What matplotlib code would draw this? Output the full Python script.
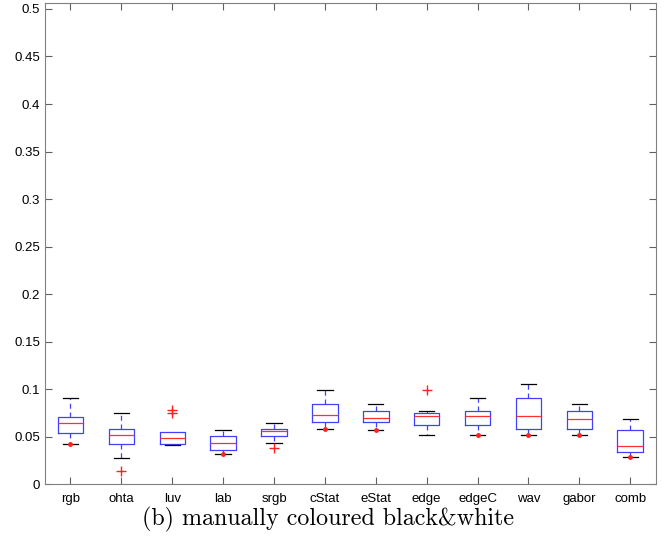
import matplotlib
matplotlib.use("Agg")
import matplotlib.pyplot as plt

plt.rcParams['font.family'] = ['Liberation Sans', 'DejaVu Sans']

labels = ['rgb', 'ohta', 'luv', 'lab', 'srgb', 'cStat', 'eStat', 'edge', 'edgeC', 'wav', 'gabor', 'comb']
whislo = [0.0425, 0.028, 0.0415, 0.032, 0.0435, 0.058, 0.057, 0.052, 0.0515, 0.0515, 0.0515, 0.0285]
q1     = [0.0545, 0.0425, 0.0425, 0.036, 0.0505, 0.0655, 0.066, 0.0625, 0.0625, 0.058, 0.058, 0.0345]
med    = [0.0643, 0.0517, 0.0487, 0.0437, 0.0557, 0.0733, 0.0698, 0.0720, 0.0720, 0.0716, 0.0688, 0.0398]
q3     = [0.0707, 0.0585, 0.0547, 0.0513, 0.0580, 0.0850, 0.0766, 0.0745, 0.0770, 0.0910, 0.0770, 0.0570]
whishi = [0.0912, 0.0745, 0.0547, 0.0573, 0.0643, 0.0987, 0.0850, 0.0770, 0.0910, 0.1060, 0.0850, 0.0687]
# outliers away from the whiskers (drawn as +)
fliers = [[], [0.0145], [0.0748, 0.0783], [], [0.038], [], [], [0.0987], [], [], [], []]
# outliers sitting right on the lower whisker cap (show up as small red dots)
capdots = [0.0425, None, None, 0.032, None, 0.058, 0.057, None, 0.0515, 0.0515, 0.0515, 0.0285]

stats = []
for i in range(len(labels)):
    stats.append(dict(label=labels[i], whislo=whislo[i], q1=q1[i], med=med[i],
                      q3=q3[i], whishi=whishi[i], fliers=fliers[i]))

fig = plt.figure(figsize=(6.67, 5.51), dpi=100)
ax = fig.add_axes([0.0675, 0.121, 0.9155, 0.874])

bp = ax.bxp(stats, positions=range(1, 13), widths=0.5, capwidths=0.3,
            boxprops=dict(color='#4040ff', linewidth=0.9),
            whiskerprops=dict(color='#4040ff', linestyle=(0, (4, 3)), linewidth=0.9),
            capprops=dict(color='black', linewidth=0.9),
            medianprops=dict(color='#ff3030', linewidth=0.9),
            flierprops=dict(marker='+', markeredgecolor='#ff2020', markersize=7, linestyle='none'))

# no visible top cap when the whisker ends on the box edge
for i in range(len(labels)):
    if whishi[i] <= q3[i]:
        bp['caps'][2 * i + 1].set_visible(False)

xs = [i + 1 for i in range(len(capdots)) if capdots[i] is not None]
ys = [v for v in capdots if v is not None]
ax.plot(xs, ys, linestyle='none', marker='o', markersize=2.5, color='#ff2020', zorder=5)

ax.set_xlim(0.5, 12.5)
ax.set_ylim(0, 0.5065)
ax.set_yticks([0, 0.05, 0.1, 0.15, 0.2, 0.25, 0.3, 0.35, 0.4, 0.45, 0.5])
ax.set_yticklabels(['0', '0.05', '0.1', '0.15', '0.2', '0.25', '0.3', '0.35', '0.4', '0.45', '0.5'])
ax.tick_params(direction='in', top=True, right=True, length=5, color='#606060', labelsize=9.5)
ax.tick_params(axis='x', pad=6)
for s in ax.spines.values():
    s.set_color('#808080')

fig.text(0.492, 0.058, '(b) manually coloured black&white', ha='center', va='center',
         fontsize=17.3, family=['cmr10', 'DejaVu Serif'])

fig.savefig('out.png', dpi=100)
